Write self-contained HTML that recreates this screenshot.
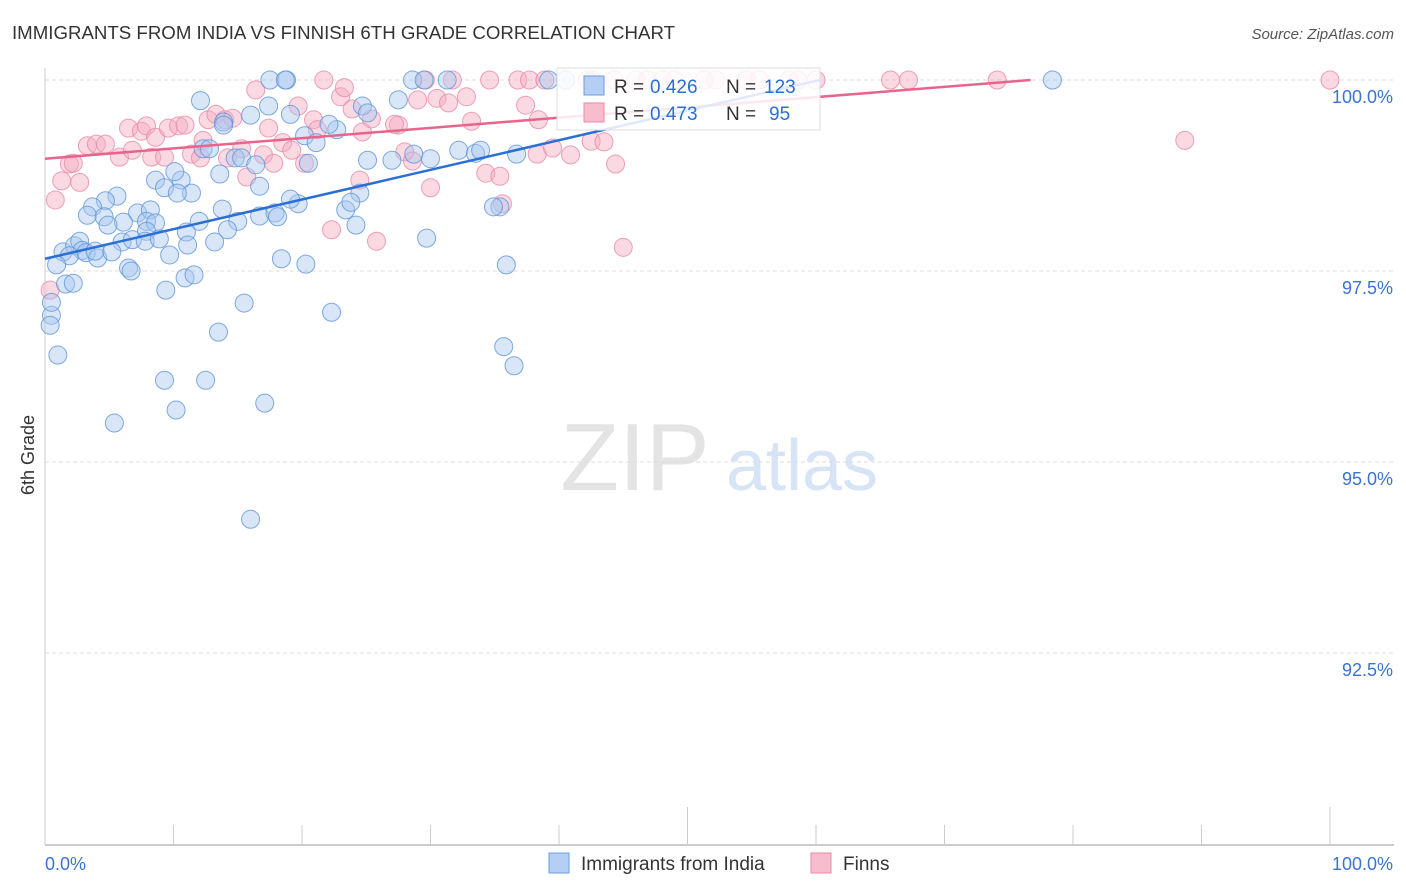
<!DOCTYPE html>
<html><head><meta charset="utf-8">
<style>
body{margin:0;background:#fff;font-family:"Liberation Sans",sans-serif;}
#wrap{position:relative;width:1406px;height:892px;overflow:hidden;}
svg text{font-family:"Liberation Sans",sans-serif;}
</style></head>
<body>
<div id="wrap">
<svg id="svg" width="1406" height="892">
<text x="12" y="39" font-size="18" fill="#333" textLength="663" lengthAdjust="spacingAndGlyphs">IMMIGRANTS FROM INDIA VS FINNISH 6TH GRADE CORRELATION CHART</text>
<text x="1394" y="39" font-size="15" fill="#555" text-anchor="end" font-style="italic">Source: ZipAtlas.com</text>
<text x="34" y="455" font-size="18" fill="#333" transform="rotate(-90 34 455)" text-anchor="middle">6th Grade</text>
<g>
<text x="635" y="490" font-size="96" fill="#e4e4e4" font-family="Liberation Serif" text-anchor="middle">ZIP</text>
<text x="802" y="490" font-size="72" fill="#d6e4f5" text-anchor="middle">atlas</text>
</g>
<g id="grid"></g>
<g id="axes"></g>
<g id="pts"></g>
<g id="trend"></g>
<g>
<rect x="557" y="68" width="263" height="62" fill="#fff" fill-opacity="0.85" stroke="#ddd"/>
<rect x="584" y="76" width="20" height="19" fill="#b4cff3" stroke="#6a9fdc"/>
<text x="614" y="93" font-size="19" fill="#333">R =</text>
<text x="650" y="93" font-size="19" fill="#2a6fd6">0.426</text>
<text x="726" y="93" font-size="19" fill="#333">N =</text>
<text x="764" y="93" font-size="19" fill="#2a6fd6">123</text>
<rect x="584" y="103" width="20" height="19" fill="#f7bccd" stroke="#e88aa6"/>
<text x="614" y="120" font-size="19" fill="#333">R =</text>
<text x="650" y="120" font-size="19" fill="#2a6fd6">0.473</text>
<text x="726" y="120" font-size="19" fill="#333">N =</text>
<text x="769" y="120" font-size="19" fill="#2a6fd6">95</text>
</g>
<g>
<rect x="549" y="853" width="20" height="20" fill="#b4cff3" stroke="#6a9fdc"/>
<text x="581" y="870" font-size="19" fill="#333">Immigrants from India</text>
<rect x="811" y="853" width="20" height="20" fill="#f7bccd" stroke="#e88aa6"/>
<text x="843" y="870" font-size="19" fill="#333">Finns</text>
</g>
</svg>
</div>
<script>
const yTicks=[100,97.5,95,92.5];
const yTickLabels=["100.0%","97.5%","95.0%","92.5%"];
const xTickLabels=["0.0%","100.0%"];
const indiaX=[17.5,18.8,18.7,28.6,29.5,31.3,78.4,40.5,39.2,12.1,16.0,19.1,17.4,22.7,22.1,24.7,27.5,25.1,13.9,13.9,20.2,21.1,12.3,12.8,14.8,15.3,16.4,20.5,25.1,27.0,28.7,30.0,32.2,33.5,33.9,36.7,8.6,9.3,10.6,10.1,13.6,16.7,11.4,10.3,5.6,4.7,3.7,7.2,8.2,3.3,4.6,6.1,7.9,8.6,13.8,16.7,17.9,18.1,19.7,19.1,23.4,24.5,23.8,12.0,15.0,14.2,11.0,7.9,4.9,6.0,6.8,7.8,8.9,11.1,13.2,1.4,2.3,2.7,2.9,1.9,3.2,4.1,3.9,5.2,0.9,1.6,2.2,6.5,6.7,9.7,10.9,11.6,9.4,18.4,20.3,24.2,29.7,35.9,35.4,34.9,15.5,22.3,13.5,0.5,0.4,1.0,9.3,12.5,35.7,36.5,10.2,17.1,5.4,16.0,0.5];
const indiaY=[100,100,100,100,100,100,100,100,100,99.73,99.54,99.55,99.66,99.35,99.42,99.66,99.74,99.57,99.45,99.41,99.27,99.18,99.10,99.10,98.98,98.98,98.89,98.91,98.95,98.95,99.03,98.97,99.08,99.04,99.08,99.03,98.69,98.59,98.69,98.80,98.77,98.61,98.52,98.52,98.48,98.42,98.34,98.26,98.30,98.23,98.21,98.14,98.15,98.13,98.31,98.22,98.26,98.21,98.38,98.44,98.30,98.52,98.40,98.15,98.15,98.04,98.01,98.02,98.10,97.88,97.91,97.89,97.92,97.84,97.88,97.75,97.83,97.89,97.77,97.70,97.74,97.67,97.76,97.75,97.58,97.33,97.34,97.54,97.50,97.71,97.41,97.45,97.25,97.66,97.59,98.10,97.93,97.58,98.34,98.34,97.08,96.96,96.70,96.92,96.79,96.40,96.07,96.07,96.51,96.26,95.68,95.77,95.51,94.25,97.09];
const finnsX=[0.8,1.3,1.9,2.2,2.7,3.3,4.0,4.7,5.8,6.5,6.8,7.5,7.9,8.3,8.6,9.6,10.4,10.9,9.3,11.4,12.3,12.1,12.7,13.3,14.0,14.6,14.2,15.3,15.7,16.4,17.0,17.4,17.8,18.5,19.2,19.7,21.7,20.9,21.2,20.2,23.0,23.3,23.9,24.5,24.7,25.4,25.8,22.3,27.5,27.2,28.0,28.6,29.0,29.6,30.0,30.5,31.4,31.7,32.8,33.2,34.6,34.3,35.4,35.6,36.8,37.4,37.7,38.3,38.9,39.5,40.9,42.2,42.5,43.5,44.4,45.0,42.6,44.3,46.0,46.9,48.1,49.0,51.3,52.2,54.6,55.6,57.9,58.6,60.0,65.8,67.2,74.1,100.0,88.7,38.4,0.4];
const finnsY=[98.43,98.68,98.90,98.91,98.66,99.14,99.16,99.16,98.99,99.37,99.08,99.33,99.40,98.99,99.25,99.37,99.40,99.41,98.99,99.03,99.21,98.98,99.48,99.55,99.48,99.50,98.98,99.10,98.73,99.87,99.02,99.37,98.91,99.18,99.08,99.66,100,99.48,99.35,98.91,99.78,99.90,99.62,98.69,99.32,99.49,97.89,98.04,99.41,99.42,99.06,98.94,99.74,100,98.59,99.76,99.70,100,99.78,99.46,100,98.78,98.74,98.38,100,99.67,100,99.03,100,99.11,99.02,100,99.20,99.19,98.90,97.81,100,100,100,100,100,100,100,100,100,100,100,100,100,100,100,100,100,99.21,99.48,97.25];
const indiaTrend=[97.66,0.0388,60.3];   // intercept, slope, end x
const finnsTrend=[98.97,0.01343,76.7];

const NS="http://www.w3.org/2000/svg";
const xs=v=>45+v*12.85;
const ys=v=>80+(100-v)*76.4;
function mk(tag,attrs,parent){const e=document.createElementNS(NS,tag);for(const k in attrs)e.setAttribute(k,attrs[k]);parent.appendChild(e);return e;}
const grid=document.getElementById('grid'),axes=document.getElementById('axes'),pts=document.getElementById('pts'),trend=document.getElementById('trend');
yTicks.forEach((t,i)=>{
  const l=mk('line',{x1:45,x2:1394,y1:ys(t),y2:ys(t),stroke:'#ddd','stroke-dasharray':'4,3'},grid);
  
  
  const tx=mk('text',{x:1393,y:ys(t)+23,'font-size':18,fill:'#3b73d1','text-anchor':'end'},grid);
  tx.textContent=yTickLabels[i];
  
  
});
const ya=mk('line',{x1:45,x2:45,y1:68,y2:845,stroke:'#ccc'},axes);


const xa=mk('line',{x1:45,x2:1394,y1:845,y2:845,stroke:'#bbb','stroke-width':1.5},axes);


for(let i=0;i<=10;i++){
  const t=mk('line',{x1:xs(i*10),x2:xs(i*10),y1:(i==5||i==10)?807:825,y2:845,stroke:'#ccc'},axes);
  
  
}
[[0,'start'],[100,'end']].forEach((p,i)=>{
  const tx=mk('text',{x:i?1393:45,y:870,'font-size':18,fill:'#3b73d1','text-anchor':p[1]},axes);
  tx.textContent=xTickLabels[i];
  
  
});
function drawPts(X,Y,fill,stroke,name){
  X.forEach((x,i)=>{
    const c=mk('circle',{cx:xs(x),cy:ys(Y[i]),r:9,fill:fill,'fill-opacity':0.45,stroke:stroke,'stroke-opacity':0.8,'stroke-width':1},pts);
    
    
  });
}
drawPts(finnsX,finnsY,'#f4aac0','#e88aa6','finns-point');
drawPts(indiaX,indiaY,'#a8c7f0','#5f95d8','india-point');
function drawTrend(T,color,name){
  const l=mk('line',{x1:xs(0),y1:ys(T[0]),x2:xs(T[2]),y2:ys(T[0]+T[1]*T[2]),stroke:color,'stroke-width':2.5},trend);
  
  
}
drawTrend(finnsTrend,'#e8648c','finns-trend-line');
drawTrend(indiaTrend,'#2a6fd6','india-trend-line');
</script>
</body></html>
